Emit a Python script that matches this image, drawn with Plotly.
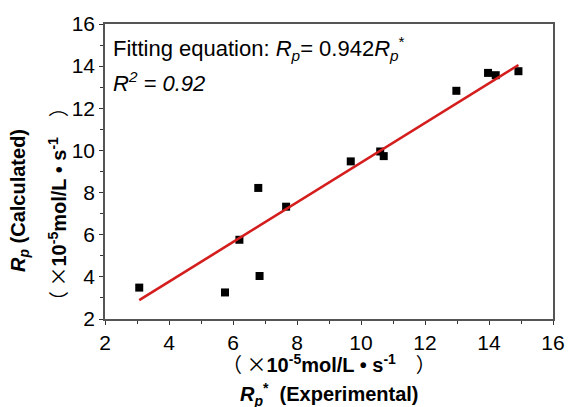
import plotly.graph_objects as go

# Experimental vs calculated polymerization rates (x10^-5 mol/L·s)
rp_experimental = [3.07, 5.75, 6.20, 6.79, 6.83, 7.66, 9.68, 10.60, 10.71, 12.98, 13.97, 14.21, 14.92]
rp_calculated = [3.49, 3.26, 5.76, 8.22, 4.04, 7.33, 9.48, 9.95, 9.73, 12.83, 13.68, 13.57, 13.76]

# Fitted line through origin: Rp = k * Rp*
fit_slope = 0.942
r_squared = 0.92

x_ticks = [2, 4, 6, 8, 10, 12, 14, 16]
y_ticks = [2, 4, 6, 8, 10, 12, 14, 16]

FONT = "Liberation Sans, Arial, Helvetica, sans-serif"
CJK = "Noto Sans CJK SC"

fit_x = [min(rp_experimental), max(rp_experimental)]
fit_y = [fit_slope * v for v in fit_x]

fig = go.Figure()
fig.add_trace(go.Scatter(
    x=rp_experimental, y=rp_calculated, mode="markers",
    marker=dict(symbol="square", size=8, color="black"),
    showlegend=False,
))
fig.add_trace(go.Scatter(
    x=fit_x, y=fit_y, mode="lines",
    line=dict(color="#d41e1e", width=2.6),
    showlegend=False,
))

axis_common = dict(
    range=[2, 16], tickmode="array",
    showgrid=False, zeroline=False,
    showline=True, linecolor="#555555", linewidth=1.5, mirror=True,
    ticks="outside", ticklen=4, tickwidth=1.2, tickcolor="#333333",
    minor=dict(dtick=1, ticks="outside", ticklen=3, tickwidth=1, tickcolor="#333333"),
    tickfont=dict(family=FONT, size=21, color="black"),
)
fig.update_xaxes(tickvals=x_ticks, ticktext=[str(v) for v in x_ticks], **axis_common)
fig.update_yaxes(tickvals=y_ticks, ticktext=[str(v) for v in y_ticks], **axis_common)

# unit label: full-width brackets and multiplication sign, bold units
unit_text = (
    f'<span style="font-family:{CJK}">（ ×</span>'
    "<b>10<sup>-5</sup>mol/L • s<sup>-1</sup></b>"
    f'<span style="font-family:{CJK}">　）</span>'
)

annotations = [
    # equation text
    dict(text=f"Fitting equation: <i>R<sub>p</sub></i>= {fit_slope}<i>R<sub>p</sub></i><sup>*</sup>",
         xref="paper", yref="paper", x=0, y=1, xanchor="left", yanchor="middle",
         xshift=6, yshift=-24, showarrow=False,
         font=dict(family=FONT, size=22, color="black")),
    dict(text=f"<i>R<sup>2</sup> = {r_squared}</i>",
         xref="paper", yref="paper", x=0, y=1, xanchor="left", yanchor="middle",
         xshift=6, yshift=-58, showarrow=False,
         font=dict(family=FONT, size=22, color="black")),
    # x-axis title (two lines)
    dict(text=unit_text,
         xref="paper", yref="paper", x=0.5, y=0, xanchor="center", yanchor="middle",
         yshift=-44, showarrow=False,
         font=dict(family=FONT, size=20, color="black")),
    dict(text="<b><i>R</i><sub><i>p</i></sub><sup>*</sup>  (Experimental)</b>",
         xref="paper", yref="paper", x=0.5, y=0, xanchor="center", yanchor="middle",
         yshift=-75, showarrow=False,
         font=dict(family=FONT, size=20, color="black")),
    # y-axis title (two lines)
    dict(text="<b><i>R</i><sub><i>p</i></sub> (Calculated)</b>",
         xref="paper", yref="paper", x=0, y=0.4, xanchor="center", yanchor="middle",
         xshift=-86, yshift=0, textangle=-90, showarrow=False,
         font=dict(family=FONT, size=20, color="black")),
    dict(text=unit_text,
         xref="paper", yref="paper", x=0, y=0.4, xanchor="center", yanchor="middle",
         xshift=-48, yshift=-3, textangle=-90, showarrow=False,
         font=dict(family=FONT, size=20, color="black")),
]

fig.update_layout(
    width=577, height=407,
    margin=dict(l=105, r=14, t=21, b=88),
    plot_bgcolor="white", paper_bgcolor="white",
    annotations=annotations,
    font=dict(family=FONT, color="black"),
)

fig.write_html("out.html")
